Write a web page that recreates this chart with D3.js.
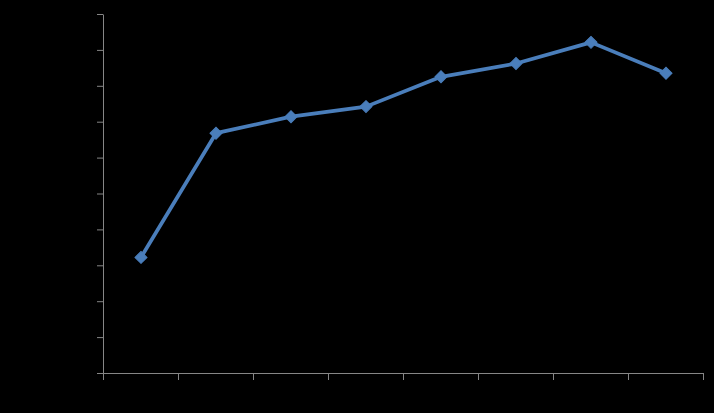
<!DOCTYPE html>
<html><head><meta charset="utf-8">
<script src="https://cdn.jsdelivr.net/npm/d3@7"></script>
<style>html,body{margin:0;padding:0;background:#000;}svg{display:block;}</style>
</head><body>
<script>
const categories = ["1","2","3","4","5","6","7","8"];
const values = [32.2, 66.8, 71.4, 74.2, 82.5, 86.2, 92.1, 83.5];
const yTicks = [0,10,20,30,40,50,60,70,80,90,100];

const W = 714, H = 413;
const m = {left:103, right:11, top:14, bottom:40};
const svg = d3.select("body").append("svg").attr("width",W).attr("height",H)
  .style("background","#000");
svg.append("rect").attr("width",W).attr("height",H).attr("fill","#000");

const x = d3.scaleBand().domain(categories).range([m.left, W-m.right]);
const y = d3.scaleLinear().domain([0,100]).range([H-m.bottom, m.top]);

const axisColor = "#868686";
const gy = svg.append("g").attr("transform",`translate(${m.left},0)`)
  .call(d3.axisLeft(y).tickValues(yTicks).tickSize(6).tickSizeOuter(0).tickFormat(""));
const gx = svg.append("g").attr("transform",`translate(0,${H-m.bottom})`)
  .call(d3.axisBottom(x).tickSize(0).tickSizeOuter(0).tickFormat(""));
const bounds = categories.map(c => x(c)).concat([x(categories[categories.length-1]) + x.bandwidth()]);
gx.selectAll("line.bt").data(bounds).enter().append("line").attr("class","bt")
  .attr("x1",d=>Math.round(d)+0.5).attr("x2",d=>Math.round(d)+0.5).attr("y1",0).attr("y2",7);
[gx, gy].forEach(g => { g.selectAll("path,line").attr("stroke",axisColor); g.selectAll("text").remove(); });

const cx = c => x(c) + x.bandwidth()/2 + 0.5;
const line = d3.line().x((d,i)=>cx(categories[i])).y(d=>y(d));
svg.append("path").datum(values).attr("d",line).attr("fill","none")
  .attr("stroke","#4a7ebb").attr("stroke-width",3.75).attr("stroke-linejoin","round");

const diamond = d3.symbol().type(d3.symbolSquare).size(72);
svg.selectAll("path.pt").data(values).enter().append("path").attr("class","pt")
  .attr("d",diamond)
  .attr("transform",(d,i)=>`translate(${cx(categories[i])},${y(d)}) rotate(45)`)
  .attr("fill","#4a7ebb").attr("stroke","#4a7ebb").attr("stroke-width",1);
</script>
</body></html>
